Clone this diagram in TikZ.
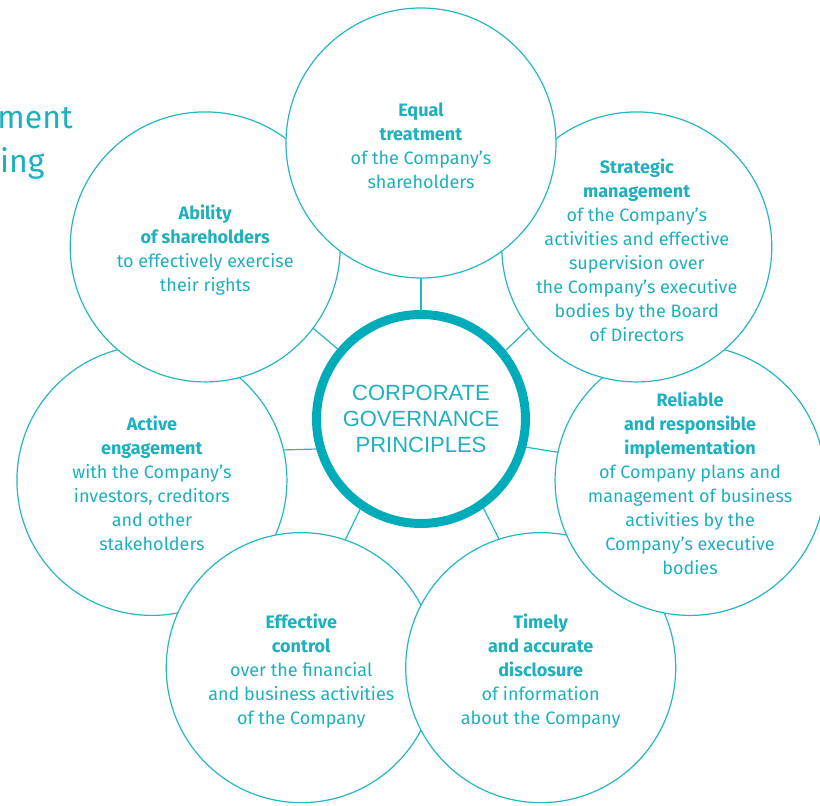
\documentclass[tikz,border=0pt]{standalone}
\usepackage{fontspec}
\setmainfont{Fira Sans}
\newfontfamily\hubfont{Liberation Sans}
\definecolor{ringteal}{RGB}{0,172,186}
\definecolor{lineteal}{RGB}{38,182,196}
\definecolor{textteal}{RGB}{30,176,190}
\tikzset{
	petal/.style={circle,draw=lineteal,line width=0.6pt,fill=white,minimum size=135pt,inner sep=0pt},
	say/.style={align=center,text=textteal,font=\fontsize{9}{12}\selectfont,yshift=-1.5pt},
	spoke/.style={draw=lineteal,line width=0.6pt}
}
\begin{document}
\begin{tikzpicture}[line join = round, line cap = round]
	\clip (-210.5pt,-193.5pt) rectangle (199.5pt,209.5pt);
	% cut-off heading at the left
	\node[anchor=base east,inner sep=0pt,text=textteal,font=\fontsize{16}{19}\selectfont] (head1) at (-174pt,145pt) {ment};
	\node[anchor=base east,inner sep=0pt,text=textteal,font=\fontsize{16}{19}\selectfont] (head2) at (-188pt,123pt) {ing};
	\node[circle,draw=ringteal,line width=4.5pt,minimum size=104.5pt,inner sep=0pt,text=textteal,align=center,font=\hubfont\fontsize{11}{13}\selectfont] (hub) at (0,0) {CORPORATE\\GOVERNANCE\\PRINCIPLES};
	% circles, back to front
	\node[petal] (act) at (192.86:138pt) {};
	\node[petal] (eff) at (244.29:138pt) {};
	\node[petal] (tim) at (295.71:138pt) {};
	\node[petal] (rel) at (347.14:138pt) {};
	\node[petal] (str) at (38.57:138pt) {};
	\node[petal] (abl) at (141.43:138pt) {};
	\node[petal] (top) at (90:138pt) {};
	\node[say] at (top) {\textbf{Equal}\\\textbf{treatment}\\of the Company’s\\shareholders};
	\node[say] at (str) {\textbf{Strategic}\\\textbf{management}\\of the Company’s\\activities and effective\\supervision over\\the Company’s executive\\bodies by the Board\\of Directors};
	\node[say] at (rel) {\textbf{Reliable}\\\textbf{and responsible}\\\textbf{implementation}\\of Company plans and\\management of business\\activities by the\\Company’s executive\\bodies};
	\node[say] at (tim) {\textbf{Timely}\\\textbf{and accurate}\\\textbf{disclosure}\\of information\\about the Company};
	\node[say] at (eff) {\textbf{Effective}\\\textbf{control}\\over the financial\\and business activities\\of the Company};
	\node[say] at (act) {\textbf{Active}\\\textbf{engagement}\\with the Company’s\\investors, creditors\\and other\\stakeholders};
	\node[say] at (abl) {\textbf{Ability}\\\textbf{of shareholders}\\to effectively exercise\\their rights};
	\draw[spoke] (hub.90) -- (top.-90);
	\draw[spoke] (hub.39) -- (str.217);
	\draw[spoke] (hub.-15) -- (rel.168);
	\draw[spoke] (hub.-55) -- (tim.108);
	\draw[spoke] (hub.-124) -- (eff.71);
	\draw[spoke] (hub.196) -- (act.13);
	\draw[spoke] (hub.140) -- (abl.-37);
\end{tikzpicture}
\end{document}
